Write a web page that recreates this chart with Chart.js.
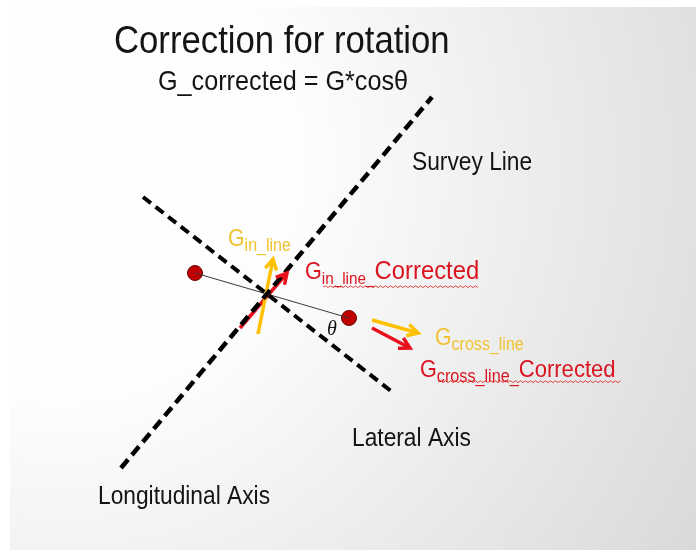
<!DOCTYPE html>
<html>
<head>
<meta charset="utf-8">
<script src="https://cdn.jsdelivr.net/npm/chart.js@4"></script>
<style>
  html, body { margin: 0; padding: 0; background: #ffffff; }
  #c { display: block; }
</style>
</head>
<body>
<canvas id="c" width="696" height="550"></canvas>
<script>
// ---- Diagram data (in diagram coordinate units) ----
const surveyLine   = [{x:121, y:468}, {x:432, y:97}];
const lateralAxis  = [{x:143, y:197}, {x:391, y:391}];
const stations     = [{x:195, y:273}, {x:349, y:318}];
const inLineArrow          = [{x:258, y:334}, {x:273, y:259}];
const inLineCorrArrow      = [{x:240, y:328}, {x:287, y:273}];
const crossLineArrow       = [{x:372, y:320}, {x:418, y:333}];
const crossLineCorrArrow   = [{x:372, y:328}, {x:410, y:348}];

const titleText    = "Correction for rotation";
const formulaText  = "G_corrected = G*cos\u03B8";
const surveyText   = "Survey Line";
const lateralText  = "Lateral Axis";
const longText     = "Longitudinal Axis";
const thetaText    = "\u03B8";
const gInLine      = ["G", "in_line"];
const gInLineCorr  = ["G", "in_line_", "Corrected"];
const gCross       = ["G", "cross_line"];
const gCrossCorr   = ["G", "cross_line_", "Corrected"];

// ---- styles / layout ----
const YEL_ARROW = '#FFC000';
const RED_ARROW = '#E8101C';
const YEL_TEXT  = '#F0C232';
const RED_TEXT  = '#DA1420';
const INK = '#141414';
const FONT = '"Liberation Sans", Arial, sans-serif';

const textItems = [
  {parts:[titleText],   sizes:[39], dys:[0], sx:0.89, x:114, y:53, color:INK},
  {parts:[formulaText], sizes:[28], dys:[0], sx:0.90, x:158, y:90, color:INK},
  {parts:[surveyText],  sizes:[25], dys:[0], sx:0.91, x:412, y:170, color:INK},
  {parts:[lateralText], sizes:[25], dys:[0], sx:0.91, x:352, y:446, color:INK},
  {parts:[longText],    sizes:[25], dys:[0], sx:0.91, x:98,  y:504, color:INK},
  {parts:gInLine,     sizes:[24,18],    dys:[0,5],   sx:0.89, x:228, y:246, color:YEL_TEXT},
  {parts:gInLineCorr, sizes:[24,17,26.5], dys:[0,5,0], sx:0.90, x:305, y:279, color:RED_TEXT},
  {parts:gCross,      sizes:[24,18],    dys:[0,5],   sx:0.89, x:435, y:345, color:YEL_TEXT},
  {parts:gCrossCorr,  sizes:[24,18,24.5], dys:[0,5,0], sx:0.90, x:420, y:377, color:RED_TEXT},
];
const squiggles = [
  {x0:323, x1:480, y:287},
  {x0:438, x1:621, y:382},
];

const bgPlugin = {
  id: 'bg',
  beforeDraw(chart) {
    const ctx = chart.ctx;
    ctx.save();
    ctx.fillStyle = '#ffffff';
    ctx.fillRect(0, 0, chart.width, chart.height);
    const g = ctx.createRadialGradient(60, 160, 0, 60, 160, 820);
    g.addColorStop(0, '#ffffff');
    g.addColorStop(0.3, '#fdfdfd');
    g.addColorStop(1, '#d4d4d4');
    ctx.fillStyle = g;
    ctx.fillRect(10, 7, chart.width - 10, chart.height - 7);
    ctx.restore();
  }
};

function arrowHead(ctx, xs, ys, a, b, color) {
  const x0 = xs.getPixelForValue(a.x), y0 = ys.getPixelForValue(a.y);
  const x1 = xs.getPixelForValue(b.x), y1 = ys.getPixelForValue(b.y);
  const ang = Math.atan2(y1 - y0, x1 - x0);
  const L = 12, w = 0.5;
  ctx.save();
  ctx.strokeStyle = color;
  ctx.lineWidth = 3.5;
  ctx.lineCap = 'butt';
  ctx.lineJoin = 'miter';
  ctx.beginPath();
  ctx.moveTo(x1 - L * Math.cos(ang - w), y1 - L * Math.sin(ang - w));
  ctx.lineTo(x1, y1);
  ctx.lineTo(x1 - L * Math.cos(ang + w), y1 - L * Math.sin(ang + w));
  ctx.stroke();
  ctx.restore();
}

const overlayPlugin = {
  id: 'overlay',
  afterDatasetsDraw(chart) {
    const ctx = chart.ctx;
    const xs = chart.scales.x, ys = chart.scales.y;
    arrowHead(ctx, xs, ys, inLineArrow[0], inLineArrow[1], YEL_ARROW);
    arrowHead(ctx, xs, ys, inLineCorrArrow[0], inLineCorrArrow[1], RED_ARROW);
    arrowHead(ctx, xs, ys, crossLineArrow[0], crossLineArrow[1], YEL_ARROW);
    arrowHead(ctx, xs, ys, crossLineCorrArrow[0], crossLineCorrArrow[1], RED_ARROW);

    // texts
    ctx.save();
    ctx.textBaseline = 'alphabetic';
    ctx.textAlign = 'left';
    for (const t of textItems) {
      ctx.save();
      ctx.translate(xs.getPixelForValue(t.x), ys.getPixelForValue(t.y));
      ctx.scale(t.sx, 1);
      ctx.fillStyle = t.color;
      let cx = 0;
      t.parts.forEach((p, i) => {
        ctx.font = t.sizes[i] + 'px ' + FONT;
        ctx.fillText(p, cx, t.dys[i]);
        cx += ctx.measureText(p).width;
      });
      ctx.restore();
    }
    // theta
    ctx.font = 'italic 20px "Liberation Serif", "Times New Roman", serif';
    ctx.fillStyle = INK;
    ctx.fillText(thetaText, xs.getPixelForValue(327), ys.getPixelForValue(335));
    ctx.restore();

    // spell-check squiggles
    ctx.save();
    ctx.strokeStyle = '#E02020';
    ctx.lineWidth = 0.8;
    for (const s of squiggles) {
      const x0 = xs.getPixelForValue(s.x0), x1 = xs.getPixelForValue(s.x1);
      const y = ys.getPixelForValue(s.y);
      ctx.beginPath();
      let up = true;
      ctx.moveTo(x0, y);
      for (let x = x0 + 2.5; x <= x1; x += 2.5) {
        ctx.lineTo(x, up ? y - 1.2 : y + 0.6);
        up = !up;
      }
      ctx.stroke();
    }
    ctx.restore();
  }
};

new Chart(document.getElementById('c'), {
  type: 'scatter',
  data: {
    datasets: [
      {data: surveyLine, showLine: true, borderColor: '#000000', borderWidth: 4.5,
       borderDash: [11, 6], pointRadius: 0, borderCapStyle: 'butt'},
      {data: lateralAxis, showLine: true, borderColor: '#000000', borderWidth: 4,
       borderDash: [10, 6], pointRadius: 0, borderCapStyle: 'butt'},
      {data: stations, showLine: true, borderColor: '#3a3a3a', borderWidth: 1,
       pointRadius: 0},
      {data: inLineArrow, showLine: true, borderColor: YEL_ARROW, borderWidth: 3.5, pointRadius: 0},
      {data: inLineCorrArrow, showLine: true, borderColor: RED_ARROW, borderWidth: 3.5, pointRadius: 0},
      {data: crossLineArrow, showLine: true, borderColor: YEL_ARROW, borderWidth: 3.5, pointRadius: 0},
      {data: crossLineCorrArrow, showLine: true, borderColor: RED_ARROW, borderWidth: 3.5, pointRadius: 0},
      {data: stations, showLine: false, pointRadius: 7.5, pointBackgroundColor: '#C00000',
       pointBorderColor: '#6a0000', pointBorderWidth: 1}
    ]
  },
  options: {
    responsive: false,
    animation: false,
    events: [],
    layout: {padding: 0, autoPadding: false},
    plugins: {legend: {display: false}, tooltip: {enabled: false}},
    scales: {
      x: {type: 'linear', min: 0, max: 696, display: false},
      y: {type: 'linear', min: 0, max: 550, reverse: true, display: false}
    }
  },
  plugins: [bgPlugin, overlayPlugin]
});
</script>
</body>
</html>
